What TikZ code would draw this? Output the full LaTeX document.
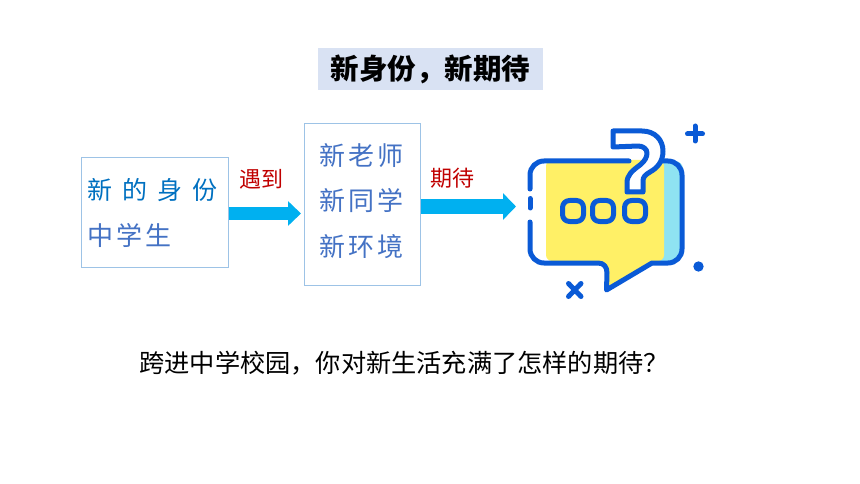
\documentclass[tikz,border=0pt]{standalone}
\usepackage{fontspec}
\usepackage{tikz}
\usetikzlibrary{arrows.meta}
\setmainfont{Noto Sans CJK SC}
\newfontfamily\widefont[LetterSpace=12]{Noto Sans CJK SC}
\definecolor{boxline}{HTML}{9DC3E6}
\definecolor{titlefill}{HTML}{D9E2F3}
\definecolor{textblue}{HTML}{4472C4}
\definecolor{deepblue}{HTML}{0070C0}
\definecolor{flowblue}{HTML}{00B0F0}
\definecolor{wordred}{HTML}{C00000}
\definecolor{iconblue}{HTML}{0A5AD6}
\definecolor{iconyellow}{HTML}{FFF066}
\definecolor{iconcyan}{HTML}{8FE3F2}
\tikzset{
  framebox/.style={draw=boxline,line width=1pt,inner sep=0pt},
  flowarrow/.style={draw=flowblue,-{Triangle[length=13pt,width=#1]}},
  redword/.style={text=wordred,font=\fontsize{22}{22}\selectfont,inner sep=0pt},
  boxword/.style={anchor=west,text=textblue,inner sep=0pt,font=\fontsize{26}{26}\widefont},
  iconline/.style={draw=iconblue,line width=5pt,line cap=round,line join=round},
}
\begin{document}
\begin{tikzpicture}[x=1pt,y=-1pt]
\useasboundingbox (0,0) rectangle (860,484);
\node [fill=titlefill,minimum width=225pt,minimum height=42pt,inner sep=0pt,font=\fontsize{28.5}{28.5}\selectfont\bfseries] (title) at (430.5,69) {新身份，新期待};
\node [framebox,minimum width=147pt,minimum height=109pt] (identity) at (154.5,212.5) {};
\node [boxword,text=deepblue,font=\fontsize{25}{25}\selectfont] (identitytop) at (87,190) {新\hspace{10pt}的\hspace{10pt}身\hspace{10pt}份};
\node [boxword] (identitylow) at (87.5,235) {中学生};
\node [framebox,minimum width=116pt,minimum height=161pt] (people) at (362,204.5) {};
\node [boxword] (teacher) at (319,156) {新老师};
\node [boxword] (mates) at (319,201) {新同学};
\node [boxword] (campus) at (319,247) {新环境};
\node [redword] (meet) at (261.5,179) {遇到};
\node [redword] (expect) at (452,178.5) {期待};
\node [inner sep=0pt,font=\fontsize{25.2}{25.2}\selectfont] (question) at (404,363) {跨进中学校园，你对新生活充满了怎样的期待？};
\coordinate (bubble) at (516,206.5);
\draw [flowarrow=24pt,line width=12pt] (identity.east |- 0,213.5) -- (301,213.5);
\draw [flowarrow=26pt,line width=15pt] (people.east |- bubble) -- (bubble);
\fill [iconcyan,rounded corners=8pt] (650,161) rectangle (683,261);
\fill [iconyellow,rounded corners=6pt] (546,160) -- (664,160) -- (664,261) -- (652,261) [sharp corners] -- (607,290) -- (607,272) -- (598,261) [rounded corners=6pt] -- (546,261) -- cycle;
\draw [iconline,rounded corners=14pt] (629,161) -- (530,161) -- (530,189);
\draw [iconline] (530,198.5) -- (530,208);
\draw [iconline,rounded corners=14pt] (530,222) -- (530,263) [sharp corners] -- (598,263) .. controls (604,263) and (607,267) .. (607,273) -- (606.5,290) -- (652,263) [rounded corners=14pt] -- (682,263) -- (682,161) -- (662,161);
\draw [iconline,fill=white] (613,131) -- (642,131) .. controls (655,131) and (663,140) .. (663,151) .. controls (663,162) and (657,168) .. (650,172) .. controls (645,175) and (643,177) .. (643,181) -- (643,192) -- (627,192) -- (627,183) .. controls (627,175) and (632,171) .. (640,165) .. controls (645,161) and (647,157) .. (647,153) .. controls (647,149) and (643,146) .. (638,146) -- (613,147) -- cycle;
\foreach \xpos in {573,603,635}
  \draw [iconline,rounded corners=7pt] (\xpos-10.5,200.5) rectangle (\xpos+10.5,221.5);
\draw [iconline] (695,126) -- (695,141) (687.5,134) -- (702.5,134);
\draw [iconline] (568.5,283.5) -- (581,296.5) (581,283.5) -- (568.5,296.5);
\fill [iconblue] (698.5,266.5) circle (5.2pt);
\end{tikzpicture}
\end{document}
